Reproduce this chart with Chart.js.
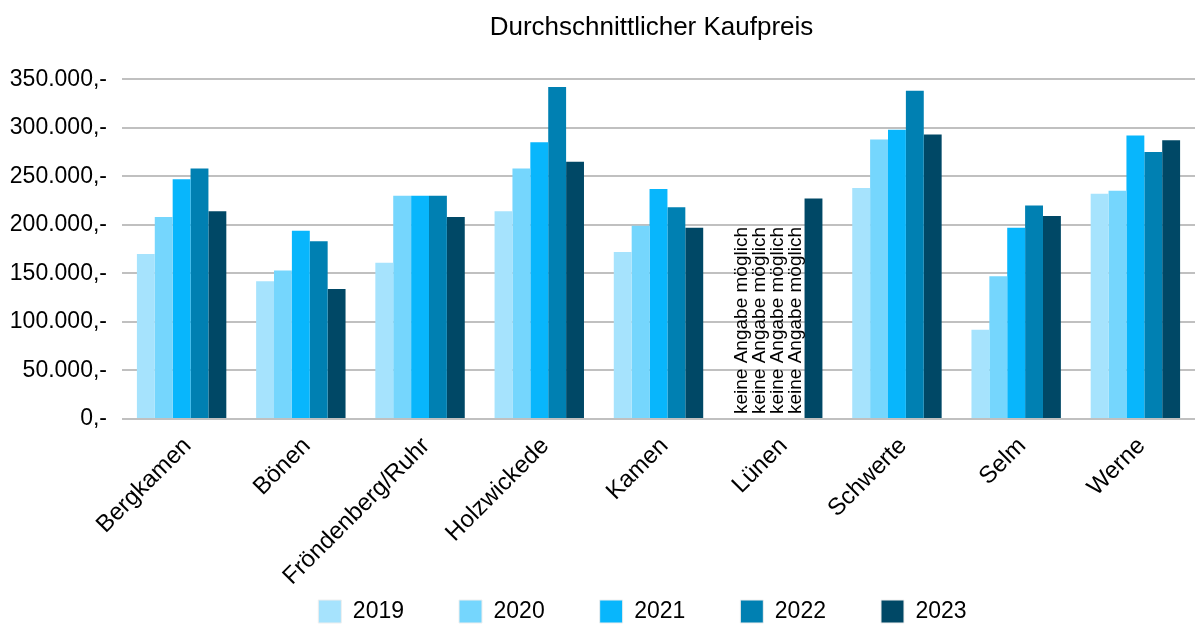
<!DOCTYPE html>
<html lang="de">
<head>
<meta charset="utf-8">
<title>Durchschnittlicher Kaufpreis</title>
<script src="https://cdn.jsdelivr.net/npm/chart.js@4"></script>
<style>
  html, body { margin: 0; padding: 0; background: #fff; }
  #wrap { width: 1195px; height: 624px; }
</style>
</head>
<body>
<div id="wrap"><canvas id="chart" width="1195" height="624"></canvas></div>
<script>
// Orte
const cities = ["Bergkamen", "Bönen", "Fröndenberg/Ruhr", "Holzwickede", "Kamen", "Lünen", "Schwerte", "Selm", "Werne"];

// Kaufpreise je Jahr (null = keine Angabe)
const y2019 = [170000, 142000, 161000, 214000, 172000, null, 238000, 92000, 232000];
const y2020 = [208000, 153000, 230000, 258000, 199000, null, 288000, 147000, 235000];
const y2021 = [247000, 194000, 230000, 285000, 237000, null, 298000, 197000, 292000];
const y2022 = [258000, 183000, 230000, 342000, 218000, null, 338000, 220000, 275000];
const y2023 = [214000, 134000, 208000, 265000, 197000, 227000, 293000, 209000, 287000];

const years = ["2019", "2020", "2021", "2022", "2023"];
const colors = ["#a6e3fd", "#75d6fd", "#08b6fc", "#0080b2", "#004866"];
const yTicks = [0, 50000, 100000, 150000, 200000, 250000, 300000, 350000];
const missingText = "keine Angabe möglich";

const FONT = "'Liberation Sans', Arial, sans-serif";
Chart.defaults.font.family = FONT;
Chart.defaults.color = "#000";

function euro(v) {
  const s = String(Math.round(v)).replace(/\B(?=(\d{3})+(?!\d))/g, ".");
  return s + ",-";
}

// "keine Angabe möglich" senkrecht in die Lücken schreiben
const missingLabels = {
  id: "missingLabels",
  afterDatasetsDraw(chart) {
    const ctx = chart.ctx;
    const yZero = chart.scales.y.getPixelForValue(0);
    ctx.save();
    ctx.font = "19px " + FONT;
    ctx.fillStyle = "#000";
    ctx.textAlign = "left";
    ctx.textBaseline = "middle";
    chart.data.datasets.forEach((ds, di) => {
      const meta = chart.getDatasetMeta(di);
      ds.data.forEach((v, i) => {
        if (v !== null) return;
        const x = meta.data[i].x;
        ctx.save();
        ctx.translate(x, yZero - 5);
        ctx.rotate(-Math.PI / 2);
        ctx.fillText(missingText, 0, 0);
        ctx.restore();
      });
    });
    ctx.restore();
  }
};

// Titel und Legende über der Zeichenfläche ausrichten
const placeBlocks = {
  id: "placeBlocks",
  afterLayout(chart) {
    const legend = chart.legend;
    const pad = legend.options.labels.padding;
    legend.left = 90;
    legend.right = 1195;
    legend.width = legend.right - legend.left;
    legend.top = 600 - pad;
    legend.bottom = chart.height;
    legend.height = legend.bottom - legend.top;
    const title = chart.titleBlock;
    title.left = 108;
    title.right = 1195;
    title.width = title.right - title.left;
  }
};

const series = [y2019, y2020, y2021, y2022, y2023];

new Chart(document.getElementById("chart"), {
  type: "bar",
  data: {
    labels: cities,
    datasets: series.map((d, i) => ({
      label: years[i],
      data: d,
      backgroundColor: colors[i],
      borderWidth: 0,
      categoryPercentage: 0.75,
      barPercentage: 1.0
    }))
  },
  options: {
    responsive: false,
    animation: false,
    layout: { padding: 0 },
    plugins: {
      title: {
        display: true,
        text: "Durchschnittlicher Kaufpreis",
        color: "#000",
        font: { size: 26, weight: "normal" },
        padding: { top: 12, bottom: 36 }
      },
      legend: {
        position: "bottom",
        maxHeight: 30,
        labels: {
          boxWidth: 23,
          boxHeight: 23,
          padding: 55,
          font: { size: 23 },
          generateLabels(chart) {
            const items = Chart.defaults.plugins.legend.labels.generateLabels(chart);
            items.forEach(it => { it.strokeStyle = "#eeeeee"; it.lineWidth = 1; });
            return items;
          }
        }
      },
      tooltip: { enabled: false }
    },
    scales: {
      x: {
        grid: { display: false, drawTicks: false },
        border: { display: false },
        ticks: { autoSkip: false, maxRotation: 45, minRotation: 45, padding: 13, labelOffset: 6, font: { size: 24 } },
        afterFit(scale) { scale.height = 175; }
      },
      y: {
        min: 0,
        max: 350000,
        afterBuildTicks(scale) { scale.ticks = yTicks.map(v => ({ value: v })); },
        grid: { color: "#c0c0c0", lineWidth: 2, drawTicks: false },
        border: { display: false },
        ticks: { padding: 15, font: { size: 23 }, callback: v => euro(v) },
        afterFit(scale) { scale.width = 122; }
      }
    }
  },
  plugins: [missingLabels, placeBlocks]
});
</script>
</body>
</html>
